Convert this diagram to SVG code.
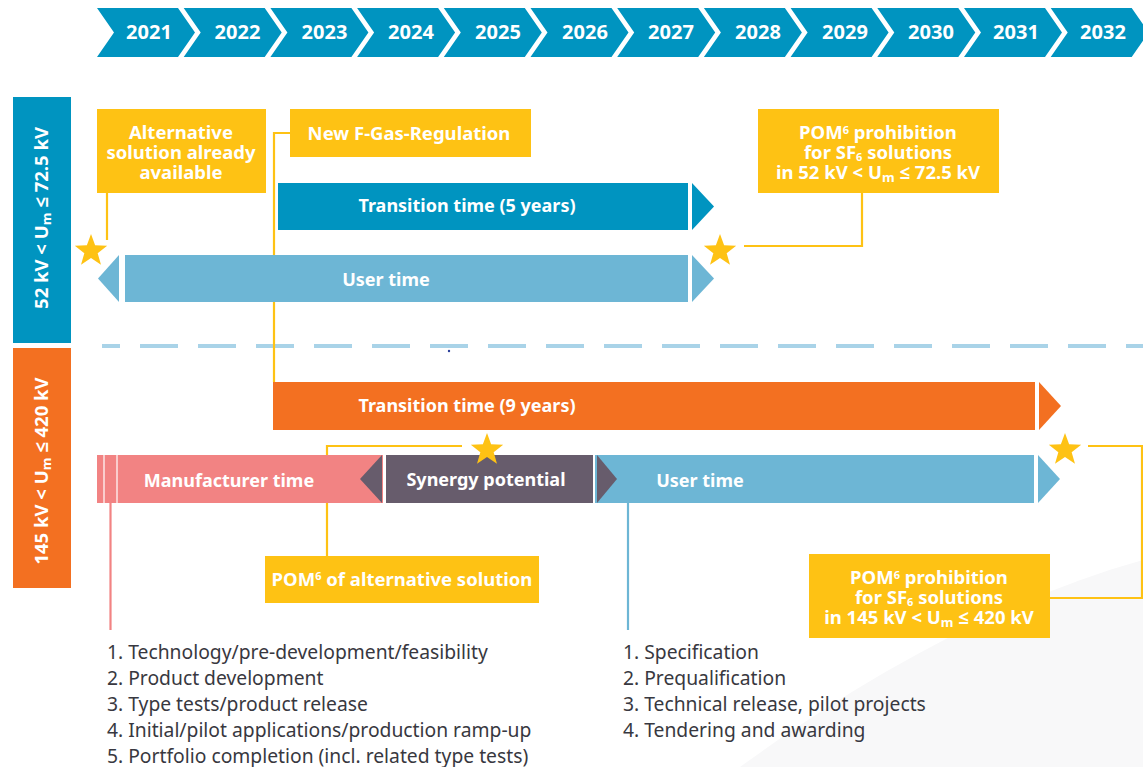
<svg xmlns="http://www.w3.org/2000/svg" width="1143" height="767" viewBox="0 0 1143 767">
<defs>
<style>
.t{font-family:"Noto Sans","Open Sans","Liberation Sans",sans-serif;font-weight:700;fill:#fff}
.yr{font-size:20px;text-anchor:middle}
.bar{font-size:18px;text-anchor:middle}
.box{font-size:18.5px;text-anchor:middle}
.lst{font-family:"Noto Sans","Open Sans","Liberation Sans",sans-serif;font-size:19.3px;fill:#383840}
.con{fill:none;stroke:#fec214;stroke-width:2.2}
.y{fill:#fec214}
.chev{fill:#0094c0}
</style>
<polygon id="star" points="0,-17 4.11,-5.66 16.17,-5.25 6.66,2.16 9.99,13.75 0,7 -9.99,13.75 -6.66,2.16 -16.17,-5.25 -4.11,-5.66" fill="#fec214"/>
<polygon id="ch" points="0,8 81,8 98,32.5 81,57 0,57 17,32.5"/>
</defs>
<rect width="1143" height="767" fill="#fff"/>
<path d="M740,767 C860,680 1000,600 1143,560 L1143,767 Z" fill="#f8f8f9"/>

<g id="timeline">
<use href="#ch" class="chev" x="97"/><use href="#ch" class="chev" x="183.7"/><use href="#ch" class="chev" x="270.4"/><use href="#ch" class="chev" x="357.1"/><use href="#ch" class="chev" x="443.8"/><use href="#ch" class="chev" x="530.5"/><use href="#ch" class="chev" x="617.2"/><use href="#ch" class="chev" x="703.9"/><use href="#ch" class="chev" x="790.6"/><use href="#ch" class="chev" x="877.3"/><use href="#ch" class="chev" x="964"/><use href="#ch" class="chev" x="1050.7"/>
<text class="t yr" x="149" y="39">2021</text><text class="t yr" x="237.5" y="39">2022</text><text class="t yr" x="324.5" y="39">2023</text><text class="t yr" x="411" y="39">2024</text><text class="t yr" x="498" y="39">2025</text><text class="t yr" x="585" y="39">2026</text><text class="t yr" x="671" y="39">2027</text><text class="t yr" x="758" y="39">2028</text><text class="t yr" x="845" y="39">2029</text><text class="t yr" x="931" y="39">2030</text><text class="t yr" x="1016" y="39">2031</text><text class="t yr" x="1103" y="39">2032</text>
</g>

<g id="band-low">
<rect x="13" y="97" width="58" height="246" fill="#0094c0"/>
<text class="t" font-size="18.5" text-anchor="middle" transform="translate(48,218) rotate(-90)">52 kV &lt; U<tspan font-size="13" dy="3">m</tspan><tspan dy="-3"> ≤ 72.5 kV</tspan></text>
</g>
<g id="band-high">
<rect x="13" y="348" width="58" height="240" fill="#f37021"/>
<text class="t" font-size="18.5" text-anchor="middle" transform="translate(48,471) rotate(-90)">145 kV &lt; U<tspan font-size="13" dy="3">m</tspan><tspan dy="-3"> ≤ 420 kV</tspan></text>
</g>

<line id="divider" x1="102" y1="346" x2="1143" y2="346" stroke="#a9d3e8" stroke-width="4" stroke-dasharray="38 20" stroke-dashoffset="20"/>
<circle cx="449" cy="351" r="1.2" fill="#2a3f9a"/>

<g id="connectors">
<path class="con" d="M107,193 V240"/>
<path class="con" d="M290,133 H274 V382"/>
<path class="con" d="M744,246 H862 V193"/>
<path class="con" d="M462,446 H327 V556"/>
<path class="con" d="M1088,446 H1142 V598 H1050"/>
<line x1="110.5" y1="503" x2="110.5" y2="630" stroke="#f28383" stroke-width="2.2"/>
<line x1="628" y1="503" x2="628" y2="630" stroke="#6db6d5" stroke-width="2.2"/>
</g>

<g id="transition5">
<rect x="278" y="183" width="410" height="47" fill="#0094c0"/>
<polygon points="692,183 714,206.5 692,230" fill="#0094c0"/>
<text class="t bar" x="467" y="212">Transition time (5 years)</text>
</g>
<g id="usertime-low">
<polygon points="98,278.5 119,255 119,302" fill="#6db6d5"/>
<rect x="125" y="255" width="563" height="47" fill="#6db6d5"/>
<polygon points="692,255 714,278.5 692,302" fill="#6db6d5"/>
<text class="t bar" x="386" y="286">User time</text>
</g>
<g id="transition9">
<rect x="273" y="382" width="762" height="48" fill="#f37021"/>
<polygon points="1039,382 1061,406 1039,430" fill="#f37021"/>
<text class="t bar" x="467" y="412">Transition time (9 years)</text>
</g>
<g id="manufacturer">
<rect x="97" y="455" width="287" height="48" fill="#f28383"/>
<line x1="104" y1="455" x2="104" y2="503" stroke="#fff" stroke-width="1.2"/>
<line x1="117" y1="455" x2="117" y2="503" stroke="#fff" stroke-width="1.2"/>
<polygon points="360,479 382,455 382,503" fill="#675c6c"/>
<line x1="383.5" y1="455" x2="383.5" y2="503" stroke="#fff" stroke-width="1"/>
<text class="t bar" x="229" y="487">Manufacturer time</text>
</g>
<g id="synergy">
<rect x="386" y="455" width="207" height="48" fill="#675c6c"/>
<text class="t bar" x="486" y="486">Synergy potential</text>
</g>
<g id="usertime-high">
<rect x="595" y="455" width="439" height="48" fill="#6db6d5"/>
<polygon points="597,455 617,479 597,503" fill="#675c6c"/>
<polygon points="1038,455 1060,479 1038,503" fill="#6db6d5"/>
<text class="t bar" x="700" y="487">User time</text>
</g>

<g id="star1"><use href="#star" x="91" y="251"/></g>
<g id="star2"><use href="#star" x="720" y="251"/></g>
<g id="star3"><use href="#star" x="487" y="450"/></g>
<g id="star4"><use href="#star" x="1065" y="450"/></g>

<g id="box-alt">
<rect class="y" x="97" y="109" width="169" height="84"/>
<text class="t box" x="181" y="139">Alternative</text>
<text class="t box" x="181" y="159">solution already</text>
<text class="t box" x="181" y="179">available</text>
</g>
<g id="box-fgas">
<rect class="y" x="290" y="109" width="241" height="48"/>
<text class="t" font-size="18.5" text-anchor="middle" x="409" y="140">New F-Gas-Regulation</text>
</g>
<g id="box-pom72">
<rect class="y" x="758" y="109" width="241" height="84"/>
<text class="t box" x="878" y="139">POM<tspan font-size="11" dy="-5">6</tspan><tspan dy="5"> prohibition</tspan></text>
<text class="t box" x="878" y="159">for SF<tspan font-size="11" dy="2">6</tspan><tspan dy="-2"> solutions</tspan></text>
<text class="t box" x="878" y="179">in 52 kV &lt; U<tspan font-size="13" dy="3">m</tspan><tspan dy="-3"> ≤ 72.5 kV</tspan></text>
</g>
<g id="box-pomalt">
<rect class="y" x="265" y="556" width="274" height="47"/>
<text class="t" font-size="18.5" text-anchor="middle" x="402" y="586">POM<tspan font-size="11" dy="-6">6</tspan><tspan dy="6"> of alternative solution</tspan></text>
</g>
<g id="box-pom420">
<rect class="y" x="809" y="554" width="241" height="84"/>
<text class="t box" x="929" y="584">POM<tspan font-size="11" dy="-5">6</tspan><tspan dy="5"> prohibition</tspan></text>
<text class="t box" x="929" y="604">for SF<tspan font-size="11" dy="2">6</tspan><tspan dy="-2"> solutions</tspan></text>
<text class="t box" x="929" y="624">in 145 kV &lt; U<tspan font-size="13" dy="3">m</tspan><tspan dy="-3"> ≤ 420 kV</tspan></text>
</g>

<g id="list-manufacturer">
<text class="lst" x="107" y="659">1. Technology/pre-development/feasibility</text>
<text class="lst" x="107" y="685">2. Product development</text>
<text class="lst" x="107" y="711">3. Type tests/product release</text>
<text class="lst" x="107" y="737">4. Initial/pilot applications/production ramp-up</text>
<text class="lst" x="107" y="763">5. Portfolio completion (incl. related type tests)</text>
</g>
<g id="list-user">
<text class="lst" x="623" y="659">1. Specification</text>
<text class="lst" x="623" y="685">2. Prequalification</text>
<text class="lst" x="623" y="711">3. Technical release, pilot projects</text>
<text class="lst" x="623" y="737">4. Tendering and awarding</text>
</g>
</svg>
